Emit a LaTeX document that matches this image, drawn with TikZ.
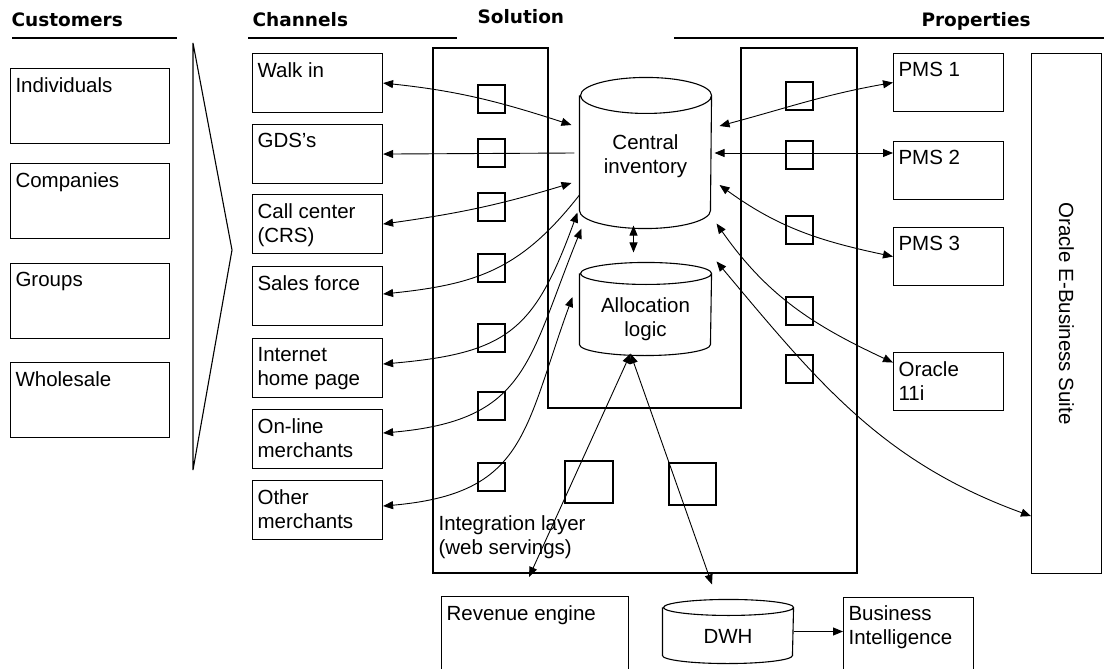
\documentclass[tikz,border=0pt]{standalone}
\usepackage{fontspec}
\setmainfont{Liberation Sans}
\newfontfamily\headfont{DejaVu Sans}
\usetikzlibrary{arrows.meta}

% database drum drawn round an invisible node: #1 node, #2 x radius, #3 cap radius
\newcommand{\dbdrum}[3]{%
  \draw ([yshift=-#3]#1.north west) -- ([yshift=#3]#1.south west)
    arc[start angle=180, end angle=360, x radius=#2, y radius=#3]
    -- ([yshift=-#3]#1.north east)
    arc[start angle=0, end angle=360, x radius=#2, y radius=#3];}

\tikzset{
  box/.style={draw, anchor=north west, inner sep=0pt},
  tag/.style={anchor=north west, align=left, inner xsep=5pt, inner ysep=9pt},
  drum/.style={inner sep=0pt},
  head/.style={anchor=west, inner sep=0pt, font=\headfont\bfseries\fontsize{18.5}{21}\selectfont},
  link/.style={line width=0.9pt},
}

\begin{document}
\begin{tikzpicture}[x=1pt,y=1pt,line width=1.1pt,font=\fontsize{20.5}{24}\selectfont,
  >={Triangle[length=10pt,width=8pt]}]
 \useasboundingbox (0,0) rectangle (1104,-669);
 \clip (0,0) rectangle (1104,-669);

 % headings
 \node[head] (hcust) at (11,-20) {Customers};
 \node[head] (hchan) at (252,-20) {Channels};
 \node[head] (hsol) at (477,-17) {Solution};
 \node[head] (hprop) at (921,-21) {Properties};
 \draw (12,-38) -- (177,-38);
 \draw (248,-38) -- (457,-38);
 \draw (674,-38) -- (1104,-38);

 % customers and the chevron
 \foreach \n/\t/\y in {ind/Individuals/68, comp/Companies/163, grp/Groups/263, whole/Wholesale/362}
  \node[box, minimum width=159pt, minimum height=75pt, label={[tag]north west:\t}] (\n) at (10,-\y) {};
 \draw (193,-43) -- (232,-250) -- (193,-470) -- cycle;

 % channels
 \foreach \n/\t/\y in {walk/Walk in/53, gds/GDS's/124, call/{Call center\\(CRS)}/194, sales/Sales force/266,
   inet/{Internet\\home page}/338, online/{On-line\\merchants}/409, other/{Other\\merchants}/480}
  \node[box, minimum width=130pt, minimum height=59pt, label={[tag]north west:\t}] (\n) at (252,-\y) {};

 % properties
 \foreach \n/\t/\y in {pms1/PMS 1/53, pms2/PMS 2/141, pms3/PMS 3/227, ora/{Oracle\\11i}/352}
  \node[box, minimum width=110pt, minimum height=58pt, label={[tag]north west:\t}] (\n) at (893,-\y) {};
 \node[box, minimum width=70pt, minimum height=520pt,
   label={[rotate=-90]center:Oracle E-Business Suite}] (ebs) at (1031,-53) {};

 % integration layer with its adapters
 \draw (433,-48) -- (548,-48) -- (548,-408) -- (741,-408) -- (741,-48) -- (857,-48)
   -- (857,-573) -- (433,-573) -- cycle;
 \foreach \y in {85,139,193,254,324,392,463} \draw (478,-\y) rectangle ++(27,-28);
 \foreach \y in {82,141,216,297,355} \draw (786,-\y) rectangle ++(27,-28);
 \draw (565,-461) rectangle (613,-503);
 \draw (669,-463) rectangle (716,-505);
 \node[anchor=north west, align=left, inner sep=0pt] (intl) at (438,-515) {Integration layer\\(web servings)};

 % stores
 \node[drum, minimum width=131pt, minimum height=150pt,
   label={[align=center,yshift=-3pt]center:Central\\inventory}] (inv) at (645.5,-153) {};
 \node[drum, minimum width=131pt, minimum height=92pt,
   label={[align=center,yshift=-10pt]center:Allocation\\logic}] (alloc) at (645.5,-309) {};
 \node[drum, minimum width=130pt, minimum height=63pt,
   label={[yshift=-5pt]center:DWH}] (dwh) at (728,-631.5) {};
 \dbdrum{inv}{65.5pt}{18pt}
 \dbdrum{alloc}{65.5pt}{11pt}
 \dbdrum{dwh}{65pt}{8pt}

 \node[box, minimum width=187pt, minimum height=90pt, label={[tag]north west:Revenue engine}] (rev) at (441,-596) {};
 \node[box, minimum width=130pt, minimum height=90pt, label={[tag,inner ysep=8pt]north west:Business\\Intelligence}] (bi) at (843,-597) {};

 % channel links
 \draw[link,<->] (walk.east) to[out=-6,in=162] ([xshift=-8pt,yshift=28pt]inv.west);
 \draw[link,->] ([xshift=-5pt]inv.west) -- (gds.east);
 \draw[link,<->] (call.east) to[out=8,in=197] ([xshift=-8pt,yshift=-30pt]inv.west);
 \draw[link,->] ([yshift=-42pt]inv.west) to[out=232,in=6,looseness=1.1] ([yshift=2pt]sales.east);
 \draw[link,<->] ([yshift=4pt]inet.east) to[out=5,in=250,looseness=1.3] ([xshift=-2pt,yshift=16pt]inv.south west);
 \draw[link,<->] ([yshift=6pt]online.east) to[out=5,in=248,looseness=1.3] ([xshift=2pt]inv.south west);
 \draw[link,<->] ([yshift=4pt]other.east) to[out=5,in=250,looseness=1.3] ([xshift=-7pt,yshift=12pt]alloc.west);

 % property links
 \draw[link,<->] ([xshift=8pt,yshift=27pt]inv.east) to[out=15,in=190] (pms1.west);
 \draw[link,<->] ([xshift=3pt]inv.east) -- (inv.east -| pms2.west);
 \draw[link,<->] ([xshift=8pt,yshift=-32pt]inv.east) to[out=-36,in=168] (pms3.west);
 \draw[link,<->] ([xshift=5pt,yshift=5pt]inv.south east) to[out=-55,in=155] ([yshift=19pt]ora.west);
 \draw[link,<->] ([xshift=5pt,yshift=1pt]alloc.north east) to[out=-50,in=160] ([yshift=58pt]ebs.south west);

 % inventory, analysis
 \draw[link,<->] ([xshift=-12pt,yshift=3pt]inv.south) -- ([xshift=-12pt,yshift=10pt]alloc.north);
 \draw[link,<->] ([xshift=-15pt,yshift=2pt]alloc.south) -- ([xshift=-6pt,yshift=19pt]rev.north);
 \draw[link,<->] ([xshift=-15pt,yshift=2pt]alloc.south) -- ([xshift=-16pt,yshift=15pt]dwh.north);
 \draw[link,->] (dwh.east) -- (dwh.east -| bi.west);
\end{tikzpicture}
\end{document}
